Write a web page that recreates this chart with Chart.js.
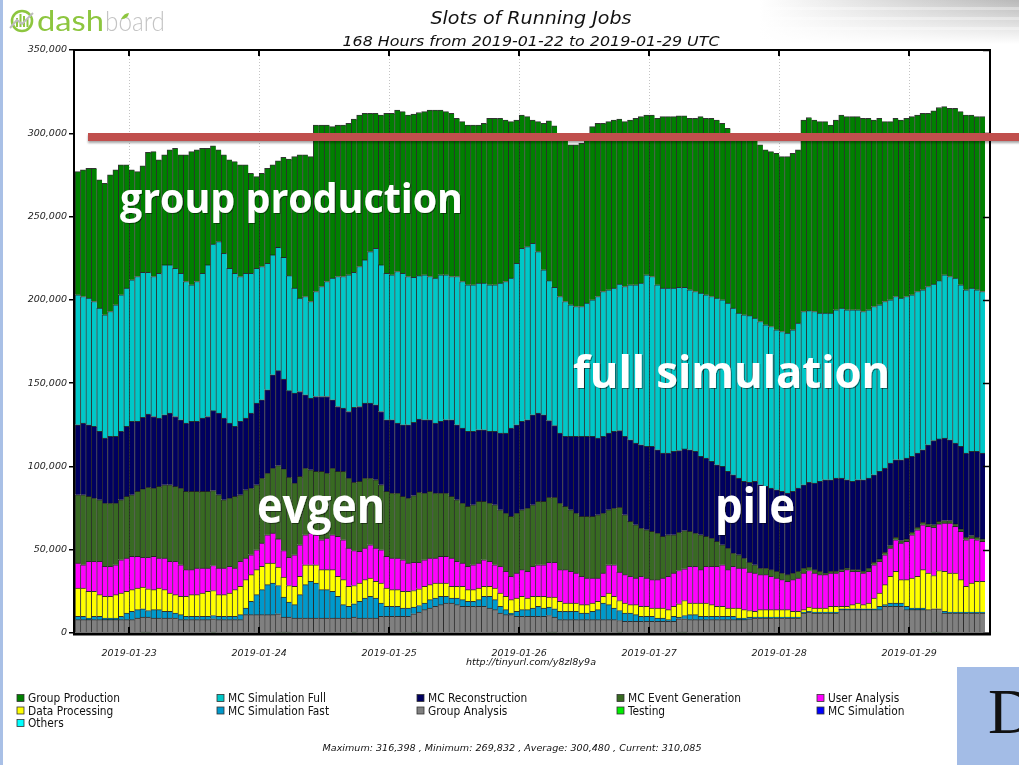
<!DOCTYPE html>
<html>
<head>
<meta charset="utf-8">
<script src="https://cdn.jsdelivr.net/npm/chart.js@4.4.1/dist/chart.umd.min.js"></script>
<style>
  html, body { margin: 0; padding: 0; background: #fff; }
  #page { position: relative; width: 1019px; height: 765px; overflow: hidden; }
  #chart { position: absolute; left: 0; top: 0; }
  #overlay { position: absolute; left: 0; top: 0; }
  .it { font-family: 'DejaVu Sans', sans-serif; font-style: italic; fill: #111; }
  .note { font-family: 'Open Sans', 'Noto Sans', sans-serif; font-weight: 700; fill: #fff; }
</style>
</head>
<body>
<div id="page">
<canvas id="chart" width="1019" height="680"></canvas>
<svg id="overlay" width="1019" height="765" xmlns="http://www.w3.org/2000/svg">
  <defs>
    <linearGradient id="fadeX" x1="0" x2="1" y1="0" y2="0">
      <stop offset="0" stop-color="#ffffff"/>
      <stop offset="1" stop-color="#b8b8b8"/>
    </linearGradient>
    <linearGradient id="fadeY" x1="0" x2="0" y1="0" y2="1">
      <stop offset="0" stop-color="#ffffff" stop-opacity="0"/>
      <stop offset="1" stop-color="#ffffff" stop-opacity="1"/>
    </linearGradient>
    <filter id="shadow" x="-5%" y="-100%" width="110%" height="300%">
      <feDropShadow dx="0" dy="2" stdDeviation="1.2" flood-opacity="0.35"/>
    </filter>
    <filter id="tshadow">
      <feDropShadow dx="1" dy="1" stdDeviation="0.7" flood-opacity="0.45"/>
    </filter>
  </defs>

  <!-- slide decorations -->
  <rect x="0" y="0" width="3" height="765" fill="#a9c0e6"/>
  <rect x="760" y="0" width="259" height="44" fill="url(#fadeX)"/>
  <rect x="760" y="7" width="259" height="3" fill="#fff" opacity="0.35"/>
  <rect x="760" y="17" width="259" height="3" fill="#fff" opacity="0.35"/>
  <rect x="760" y="27" width="259" height="3" fill="#fff" opacity="0.35"/>
  <rect x="760" y="0" width="259" height="44" fill="url(#fadeY)"/>
  <rect x="957" y="667" width="62" height="98" fill="#a3bce6"/>
  <text x="988" y="733" font-family="'Liberation Serif', 'DejaVu Serif', serif" font-size="64" fill="#111">D</text>

  <!-- dashboard logo -->
  <circle cx="22" cy="21" r="10" fill="none" stroke="#8dc63f" stroke-width="2.6"/>
  <rect x="16" y="18" width="2" height="9" fill="#8dc63f"/>
  <rect x="19.5" y="14" width="2" height="13" fill="#8dc63f"/>
  <rect x="23" y="16" width="2" height="11" fill="#8dc63f"/>
  <rect x="26.5" y="19" width="2" height="8" fill="#8dc63f"/>
  <polyline points="10,28 17,20 22,24 33,13" fill="none" stroke="#bdbdbd" stroke-width="2"/>
  <text x="37" y="31" font-family="Lato, 'Open Sans', sans-serif" font-weight="400" font-size="28" fill="#8dc63f" textLength="67" lengthAdjust="spacingAndGlyphs">dash</text>
  <text x="105" y="31" font-family="Lato, 'Open Sans', sans-serif" font-weight="300" font-size="28" fill="#c4c4c4" textLength="60" lengthAdjust="spacingAndGlyphs">board</text>
  <path d="M121 19 q3 -6 8 -6 q-1 6 -8 6z" fill="#8dc63f"/>

  <!-- titles -->
  <text class="it" x="531" y="24" font-size="17" text-anchor="middle" textLength="201" lengthAdjust="spacingAndGlyphs">Slots of Running Jobs</text>
  <text class="it" x="531" y="46" font-size="14" text-anchor="middle" textLength="377" lengthAdjust="spacingAndGlyphs">168 Hours from 2019-01-22 to 2019-01-29 UTC</text>
  <text class="it" x="531" y="665" font-size="8.5" text-anchor="middle" textLength="130" lengthAdjust="spacingAndGlyphs">http://tinyurl.com/y8zl8y9a</text>
  <text class="it" x="512" y="751" font-size="9" text-anchor="middle" textLength="379" lengthAdjust="spacingAndGlyphs">Maximum: 316,398 , Minimum: 269,832 , Average: 300,480 , Current: 310,085</text>

  <g id="legend"></g>

  <!-- slide annotations -->
  <rect x="88" y="133" width="935" height="8" fill="#c0504d" filter="url(#shadow)"/>
  <text class="note" x="120" y="213" font-size="41" textLength="343" lengthAdjust="spacingAndGlyphs" filter="url(#tshadow)">group production</text>
  <text class="note" x="573" y="388" font-size="45" textLength="317" lengthAdjust="spacingAndGlyphs" filter="url(#tshadow)">full simulation</text>
  <text class="note" x="257" y="523" font-size="48" textLength="128" lengthAdjust="spacingAndGlyphs" filter="url(#tshadow)">evgen</text>
  <text class="note" x="715" y="523" font-size="48" textLength="80" lengthAdjust="spacingAndGlyphs" filter="url(#tshadow)">pile</text>
</svg>
</div>

<script>
// running job slots, in thousands, one value per hour (2019-01-22 14:00 UTC onwards)
const testing = [
  0,0,0,0,0,0,0,0,0,0,0,0,
  0.5,0.5,0,0,0,0,0,0,0,0,0,0,
  0,0.5,0,0,0,0,0,0,0,0,0,0,
  0,0.5,0.5,0.5,0,0,0,0,0,0,0,0,
  0,0,0,0.5,0,0,0,0,0,0,0,0,
  0,0,0.5,0.5,0,0,0,0,0,0,0,0,
  0,0,0,0,0,0,0,0,0,0,0,0,
  0,0,0,0.5,0.5,0,0,0,0,0,0,0,
  0,0,0,0,0.5,0,0,0,0,0,0,0,
  0,0,0,0.5,0.5,0,0,0,0,0,0,0,
  0,0,0,0,0.5,0,0,0,0,0,0,0,
  0,0,0,0.5,0,0,0,0,0,0,0,0,
  0,0,0,0,0,0,0,0,0,0,0,0,
  0,0,0.5,0.5,0,0,0,0,0,0,0,0
];
const groupAnalysis = [
  8,8,8,8,8,8,8,8,8,8,8,9,
  9,9,9,9,9,9,9,8,8,8,8,8,
  8,8,8,8,8,8,8,11,11,11,11,11,
  11,11,9,9,9,9,9,9,9,9,9,9,
  9,9,9,9,9,9,9,9,10,10,10,10,
  10,10,11,12,14,15,16,17,18,18,17,16,
  16,16,16,16,15,14,12,11,11,10,10,10,
  10,10,10,10,9,8,8,8,8,8,8,8,
  8,8,8,8,7,7,7,7,7,7,7,7,
  7,7,7,8,8,8,8,8,8,8,8,8,
  8,8,8,8,8,9,9,9,9,9,9,9,
  9,9,12,12,12,12,12,12,12,14,14,14,
  14,14,14,14,14,16,16,16,16,14,14,14,
  14,14,14,14,12,12,12,12,12,12,12,12
];
const mcSimFast = [
  2,2,1,2,2,1,1,1,2,4,5,5,
  5,4,5,5,4,4,3,3,2,2,2,2,
  2,2,2,2,2,2,3,4,8,12,15,18,
  19,17,12,9,8,14,20,22,21,17,17,16,
  13,8,7,8,10,12,13,12,8,6,6,6,
  5,5,4,4,4,5,5,5,4,3,4,4,
  3,3,4,6,7,6,4,3,1,3,4,4,
  5,6,5,5,5,5,5,5,5,4,4,5,
  6,10,9,7,6,5,5,4,3,3,3,2,
  2,1,3,1,2,3,3,2,2,2,2,2,
  2,2,1,1,1,0.5,0.5,0.5,0.5,0.5,0.5,0.5,
  0.5,0.5,0.5,0.5,0.5,0.5,0.5,0.5,0.5,0.5,0.5,0.5,
  0.5,0.5,0.5,0.5,2,1,2,2,2,2,1,1,
  1,0,0,0,1,0.5,0.5,0.5,0.5,0.5,0.5,0.5
];
const dataProcessing = [
  17,17,16,15,13,13,13,14,14,13,13,13,
  13,13,12,13,13,11,11,11,12,13,13,14,
  15,15,13,13,14,16,17,17,16,15,14,13,
  12,11,12,10,11,11,12,10,11,12,12,13,
  12,15,12,11,11,11,11,10,12,11,10,10,
  10,10,10,10,10,9,9,8,8,7,7,8,
  7,7,7,6,6,7,8,8,8,8,8,7,
  7,6,7,6,7,6,5,5,5,5,5,5,
  5,4,7,7,6,6,5,6,6,6,5,6,
  6,6,6,8,9,7,7,8,8,7,6,6,
  5,5,6,5,4,3.5,4.5,4.5,4.5,4.5,4.5,4.5,
  3.5,3.5,1.5,2.5,2.5,2.5,2.5,3.5,3.5,1.5,1.5,2.5,
  3.5,2.5,3.5,6.5,8,12,16,19,14,16,18,19,
  23,22,20,23,24,23.5,23.5,19.5,15.5,17.5,18.5,18.5
];
const userAnalysis = [
  15,14,18,18,20,18,18,18,20,20,20,19,
  18,19,20,18,19,19,20,19,16,15,16,15,
  14,15,16,16,16,13,15,13,12,12,14,17,
  18,17,16,17,19,19,18,19,18,18,19,21,
  24,24,23,21,19,19,20,20,20,19,19,19,
  19,17,17,16,16,16,15,16,16,17,15,14,
  14,15,15,16,15,14,16,15,14,15,16,16,
  18,19,19,21,21,19,20,19,18,17,16,15,
  14,14,17,19,17,17,17,16,18,17,17,17,
  18,20,20,20,19,22,22,20,22,23,24,25,
  23,25,24,25,23,23,21,21,20,19,18,17,
  19,20,22,22,21,20,20,20,20,21,22,20,
  19,19,19,20,19,18,17,19,22,23,26,28,
  27,28,29,28,29,30,28,29,28,27,25,24
];
const mcEventGen = [
  41,42,39,38,37,38,38,37,36,37,37,39,
  41,42,41,43,44,46,45,46,47,47,46,46,
  46,45,44,41,41,43,40,41,40,39,39,37,
  39,44,49,48,43,41,40,38,38,41,39,40,
  39,41,42,41,42,42,40,41,39,39,39,39,
  38,39,40,42,40,40,39,38,38,37,37,36,
  36,36,37,35,35,36,34,35,36,36,36,38,
  37,38,38,39,39,40,38,37,36,36,37,37,
  38,36,33,34,39,36,33,32,29,29,29,28,
  25,25,23,23,23,21,20,21,18,17,15,12,
  13,8,8,6,6,5,4,4,4,4,4,4,
  4,4,3,2,2,2,1,1,1,1,1,1,
  1,1,2,1.5,1.5,1.5,1.5,1.5,1.5,1.5,1.5,1.5,
  1.5,1.5,1.5,1.5,1.5,1.5,1.5,1.5,1.5,1.5,1.5,1.5
];
const mcReconstruction = [
  42,43,43,43,41,39,40,40,41,42,44,42,
  43,44,43,41,42,43,42,41,41,42,42,44,
  45,48,49,49,45,42,44,43,45,49,47,50,
  56,57,54,52,54,51,44,43,45,45,46,41,
  39,38,40,45,45,45,45,45,44,43,44,42,
  43,44,44,44,44,43,42,43,44,46,45,45,
  45,44,43,43,43,44,46,48,53,53,53,53,
  54,53,52,46,43,42,42,44,46,48,48,48,
  46,46,46,46,46,47,49,49,50,50,51,50,
  50,49,50,49,49,49,49,47,47,46,46,47,
  46,47,46,46,48,50,50,49,49,49,49,49,
  49,50,50,51,52,54,56,55,56,55,53,53,
  54,55,54,52.5,52.5,50.5,49.5,46.5,48.5,48.5,45.5,44.5,
  43.5,47.5,50.5,49.5,49.5,48.5,48.5,49.5,50.5,50.5,51.5,51.5
];
const mcSimFull = [
  78,76,76,75,74,74,75,79,82,83,85,87,
  87,85,84,87,90,89,89,88,85,82,84,87,
  91,100,103,99,93,92,87,87,84,81,80,76,
  72,74,73,69,63,56,59,58,63,66,69,73,
  78,79,82,81,84,86,91,94,88,88,87,91,
  91,89,87,86,87,86,87,88,87,86,89,88,
  88,88,88,88,88,88,90,91,90,97,104,104,
  103,97,87,84,83,82,81,79,78,78,80,82,
  85,87,86,86,88,90,93,95,97,103,102,99,
  99,99,98,98,97,96,96,98,98,99,100,100,
  101,100,99,100,100,98,98,97,97,96,96,96,
  97,99,104,103,103,101,100,100,101,102,102,103,
  102,101,101,101,100,100,98,98,97,97,97,97,
  96,95,94,95,98,98,99,97,98,98,97,97
];
const groupProduction = [
  74,76,78,80,77,79,82,81,78,74,66,63,
  64,72,75,68,66,69,72,71,76,80,79,75,
  70,59,55,59,65,67,67,65,60,55,56,57,
  54,52,60,70,79,86,85,87,100,97,94,91,
  91,91,91,92,91,88,83,81,90,96,97,97,
  97,97,98,98,98,100,101,99,98,98,95,96,
  96,96,95,96,100,100,99,97,94,86,80,78,
  74,78,88,96,97,98,98,96,97,98,102,104,
  104,101,101,101,99,99,99,100,100,96,97,100,
  103,103,103,103,103,103,104,106,106,107,107,106,
  105,105,107,107,107,107,106,105,105,106,105,106,
  106,104,115,116,115,115,115,113,114,116,116,116,
  116,116,115,112,112,108,107,107,107,107,107,106,
  106,104,104,104,101,101,102,104,105,104,104,105
];
const mcSimulation = [];   // shown in the legend only, no slots in this period
const others = [];

const dayTicks = ['2019-01-23', '2019-01-24', '2019-01-25', '2019-01-26', '2019-01-27', '2019-01-28', '2019-01-29'];
const yTicks = [0, 50000, 100000, 150000, 200000, 250000, 300000, 350000];

// hourly categories
const hours = [];
const t0 = Date.UTC(2019, 0, 22, 14);
for (let i = 0; i < groupProduction.length; i++) {
  hours.push(new Date(t0 + i * 3600000).toISOString().slice(0, 16).replace('T', ' '));
}
const dayIndex = hours.map((h, i) => (h.endsWith('00:00') && dayTicks.includes(h.slice(0, 10))) ? i : -1).filter(i => i >= 0);

// bottom to top of the stack
const series = [
  { label: 'Testing', data: testing, color: '#00dd00' },
  { label: 'Group Analysis', data: groupAnalysis, color: '#808080' },
  { label: 'MC Simulation Fast', data: mcSimFast, color: '#0099cc' },
  { label: 'Data Processing', data: dataProcessing, color: '#ffff00' },
  { label: 'User Analysis', data: userAnalysis, color: '#ff00ff' },
  { label: 'MC Event Generation', data: mcEventGen, color: '#386a22' },
  { label: 'MC Reconstruction', data: mcReconstruction, color: '#000060' },
  { label: 'MC Simulation Full', data: mcSimFull, color: '#00c8c8' },
  { label: 'Group Production', data: groupProduction, color: '#008000' }
];

const legendOrder = [
  ['Group Production', '#008000'], ['MC Simulation Full', '#00c8c8'], ['MC Reconstruction', '#000060'],
  ['MC Event Generation', '#386a22'], ['User Analysis', '#ff00ff'], ['Data Processing', '#ffff00'],
  ['MC Simulation Fast', '#0099cc'], ['Group Analysis', '#808080'], ['Testing', '#00ee00'],
  ['MC Simulation', '#0000ff'], ['Others', '#00ffff']
];

// legend, five columns like the dashboard
const NS = 'http://www.w3.org/2000/svg';
const lg = document.getElementById('legend');
legendOrder.forEach(([name, color], k) => {
  const x0 = 17 + (k % 5) * 200;
  const yb = 702 + Math.floor(k / 5) * 12.5;
  const r = document.createElementNS(NS, 'rect');
  r.setAttribute('x', x0); r.setAttribute('y', yb - 7.5);
  r.setAttribute('width', 7); r.setAttribute('height', 7);
  r.setAttribute('fill', color); r.setAttribute('stroke', '#333'); r.setAttribute('stroke-width', '0.8');
  lg.appendChild(r);
  const t = document.createElementNS(NS, 'text');
  t.setAttribute('x', x0 + 11); t.setAttribute('y', yb);
  t.setAttribute('font-family', "'DejaVu Sans Condensed', 'DejaVu Sans', sans-serif");
  t.setAttribute('font-stretch', 'semi-condensed');
  t.setAttribute('font-size', '11.8');
  t.setAttribute('fill', '#111');
  t.textContent = name;
  lg.appendChild(t);
});

const framePlugin = {
  id: 'frame',
  beforeDatasetsDraw(chart) {
    const { ctx, chartArea: a, scales: { x } } = chart;
    const half = (a.right - a.left) / hours.length / 2;
    ctx.save();
    ctx.strokeStyle = '#c4c4c4';
    ctx.lineWidth = 1;
    ctx.setLineDash([1, 2]);
    dayIndex.forEach(i => {
      const px = Math.round(x.getPixelForValue(i) - half) + 0.5;
      ctx.beginPath(); ctx.moveTo(px, a.top); ctx.lineTo(px, a.bottom); ctx.stroke();
    });
    ctx.restore();
  },
  afterDatasetsDraw(chart) {
    const { ctx, chartArea: a, scales: { x, y } } = chart;
    const half = (a.right - a.left) / hours.length / 2;
    const right = a.right + 5;
    ctx.save();
    ctx.strokeStyle = '#000';
    ctx.lineWidth = 2;
    ctx.beginPath();
    ctx.moveTo(a.left - 1, a.bottom); ctx.lineTo(a.left - 1, a.top);
    ctx.lineTo(right, a.top); ctx.lineTo(right, a.bottom);
    ctx.stroke();
    ctx.lineWidth = 3;
    ctx.beginPath(); ctx.moveTo(a.left - 2, a.bottom + 1); ctx.lineTo(right + 1, a.bottom + 1); ctx.stroke();
    ctx.lineWidth = 1.5;
    yTicks.forEach(v => {
      const py = Math.round(y.getPixelForValue(v)) + 0.5;
      ctx.beginPath(); ctx.moveTo(right - 7, py); ctx.lineTo(right, py); ctx.stroke();
    });
    ctx.lineWidth = 2;
    dayIndex.forEach(i => {
      const px = Math.round(x.getPixelForValue(i) - half);
      ctx.beginPath(); ctx.moveTo(px, a.top); ctx.lineTo(px, a.top + 6); ctx.stroke();
      ctx.beginPath(); ctx.moveTo(px, a.bottom); ctx.lineTo(px, a.bottom - 6); ctx.stroke();
    });
    ctx.restore();
  }
};

const tickFont = { family: "'DejaVu Sans', sans-serif", size: 9.5, style: 'italic' };

new Chart(document.getElementById('chart'), {
  type: 'bar',
  data: {
    labels: hours,
    datasets: series.map(s => ({
      label: s.label,
      data: s.data.map(v => v * 1000),
      backgroundColor: s.color,
      borderColor: 'rgba(0,0,0,0.8)',
      borderWidth: { top: 1, left: 1, right: 0, bottom: 0 },
      borderSkipped: false,
      barPercentage: 1,
      categoryPercentage: 1
    }))
  },
  options: {
    responsive: false,
    devicePixelRatio: 1,
    animation: false,
    events: [],
    layout: { padding: { top: 50, right: 34, left: 0, bottom: 0 } },
    plugins: {
      legend: { display: false },
      tooltip: { enabled: false },
      title: { display: false }
    },
    scales: {
      x: {
        stacked: true,
        grid: { display: false },
        border: { display: false },
        afterFit: s => { s.height = 47; },
        ticks: {
          autoSkip: false,
          maxRotation: 0,
          minRotation: 0,
          padding: 7,
          labelOffset: -2.7,
          color: '#222',
          font: tickFont,
          callback: (v, i) => dayIndex.includes(i) ? hours[i].slice(0, 10) : ''
        }
      },
      y: {
        stacked: true,
        min: 0,
        max: 350000,
        afterFit: s => { s.width = 75; },
        afterBuildTicks: s => { s.ticks = yTicks.map(v => ({ value: v })); },
        grid: { drawOnChartArea: false, drawTicks: true, tickLength: 6, color: '#000', lineWidth: 1.5 },
        border: { display: false },
        ticks: {
          padding: 2,
          color: '#222',
          font: tickFont,
          callback: v => v.toLocaleString('en-US')
        }
      }
    }
  },
  plugins: [framePlugin]
});
</script>
</body>
</html>
